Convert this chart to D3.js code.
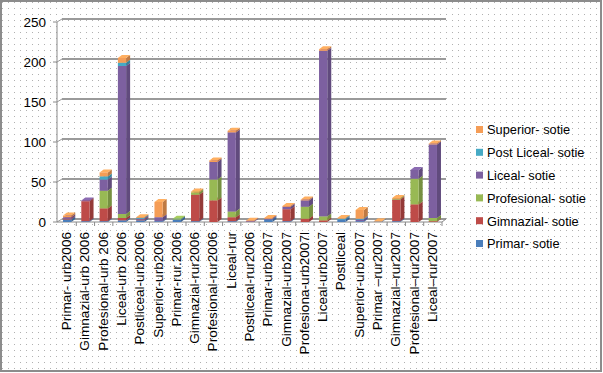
<!DOCTYPE html>
<html lang="ro">
<head>
<meta charset="UTF-8" />
<title>Sotie - nivel de studii</title>
<script src="https://d3js.org/d3.v7.min.js"></script>
<style>
  body { margin: 0; background: #fff; }
  svg { display: block; font-family: Arial, "Liberation Sans", sans-serif; }
</style>
</head>
<body>
<svg id="chart" width="603" height="373"></svg>
<script>
const categories = [
  "Primar- urb2006", "Gimnazial-urb 2006", "Profesional-urb 206", "Liceal-urb 2006",
  "Postliceal-urb2006", "Superior-urb2006", "Primar-rur.2006", "Gimnazial-rur2006",
  "Profesional-rur2006", "Liceal-rur", "Postliceal-rur2006", "Primar-urb2007",
  "Gimnazial-urb2007", "Profesiona-urb2007l", "Liceal-urb2007", "Postliceal",
  "Superior-urb2007", "Primar \u2013rur2007", "Gimnazial\u2013rur2007",
  "Profesional\u2013rur2007", "Liceal\u2013rur2007"
];
const seriesNames = ["Primar- sotie", "Gimnazial- sotie", "Profesional- sotie",
  "Liceal- sotie", "Post Liceal- sotie", "Superior- sotie"];
const primar      = [3, 1, 1, 2, 2, 1, 3, 1, 0, 1, 0, 3, 1, 0, 0, 3, 1, 0.5, 1, 0, 0];
const gimnazial   = [1, 25, 16, 3, 1, 0, 0, 33, 27, 5, 0, 0, 15, 4, 2, 0, 0, 0, 27, 22, 1];
const profesional = [0, 0, 22, 5, 0, 0, 1, 3, 26, 7, 0, 0, 0, 15, 5, 0, 0, 0, 1, 32, 4];
const liceal      = [2, 1, 14, 185, 1, 5, 0, 0, 22, 99, 1, 1, 3, 8, 207, 0, 2, 0, 0, 11, 92];
const postliceal  = [0, 0, 4, 4, 1, 0, 0, 0, 0, 0, 0, 0, 0, 0, 0, 1, 1, 0, 0, 0, 0];
const superior    = [2, 0, 5, 6, 1, 19, 0, 1, 2, 2, 0.5, 1, 1, 1, 2, 1, 11, 0.5, 1, 0, 1];
const yTicks = [0, 50, 100, 150, 200, 250];

const colors = ["#4a7ebb", "#be4b48", "#98b954", "#7d60a0", "#46aac5", "#f59d56"];
const values = [primar, gimnazial, profesional, liceal, postliceal, superior];

const svg = d3.select("#chart");
const dx = 4, dy = -3;   // 3D depth offset

// dotted background texture
const defs = svg.append("defs");
const pat = defs.append("pattern").attr("id", "dots")
  .attr("width", 6).attr("height", 6).attr("patternUnits", "userSpaceOnUse");
pat.append("rect").attr("width", 6).attr("height", 6).attr("fill", "#fff");
pat.append("rect").attr("x", 2).attr("y", 2).attr("width", 1).attr("height", 1).attr("fill", "#b0b0b0");

svg.append("rect").attr("x", 1).attr("y", 1).attr("width", 600).attr("height", 370)
  .attr("fill", "url(#dots)").attr("stroke", "#8c8c8c").attr("stroke-width", 2);

const x = d3.scaleBand().domain(categories).range([58, 442])
  .paddingInner(0.55).paddingOuter(0.275);
const y = d3.scaleLinear().domain([0, 250]).range([222, 22]);

// back wall gridlines with side-wall diagonals
const grid = svg.append("g");
yTicks.forEach(t => {
  grid.append("line")
    .attr("x1", 58 + dx).attr("x2", 442 + dx)
    .attr("y1", y(t) + dy).attr("y2", y(t) + dy)
    .attr("stroke", "#9a9a9a").attr("stroke-width", 2);
  grid.append("line")
    .attr("x1", 57).attr("y1", y(t)).attr("x2", 58 + dx).attr("y2", y(t) + dy)
    .attr("stroke", "#9a9a9a").attr("stroke-width", 1);
});

// axis line and floor front edge
svg.append("line").attr("x1", 57).attr("x2", 57).attr("y1", y(250)).attr("y2", y(0))
  .attr("stroke", "#8a8a8a");
svg.append("line").attr("x1", 57).attr("x2", 442).attr("y1", y(0)).attr("y2", y(0))
  .attr("stroke", "#8a8a8a");
svg.append("line").attr("x1", 442).attr("x2", 442 + dx).attr("y1", y(0)).attr("y2", y(0) + dy)
  .attr("stroke", "#8a8a8a");
categories.forEach((c, i) => {
  const tx = 58 + (384 / 21) * (i + 1);
  svg.append("line").attr("x1", tx).attr("x2", tx).attr("y1", y(0)).attr("y2", y(0) + 4)
    .attr("stroke", "#8a8a8a");
});
yTicks.forEach(t => {
  svg.append("line").attr("x1", 53).attr("x2", 57).attr("y1", y(t)).attr("y2", y(t))
    .attr("stroke", "#8a8a8a");
});

// y tick labels
svg.append("g").selectAll("text").data(yTicks).join("text")
  .attr("x", 46).attr("y", d => y(d)).attr("dy", "0.35em")
  .attr("text-anchor", "end").attr("font-size", 13.5).attr("fill", "#000")
  .text(d => d);

// stacked 3D bars
const rows = categories.map((c, i) => {
  const r = { cat: c };
  seriesNames.forEach((s, k) => r[s] = values[k][i]);
  return r;
});
const stack = d3.stack().keys(seriesNames)(rows);
const bw = x.bandwidth();
const barG = svg.append("g");
stack.forEach((layer, k) => {
  const col = d3.color(colors[k]);
  layer.forEach((seg, i) => {
    if (seg[1] - seg[0] <= 0) return;
    const x0 = x(categories[i]);
    const yTop = y(seg[1]), yBot = y(seg[0]);
    const g = barG.append("g");
    // side face
    g.append("path")
      .attr("d", `M${x0 + bw},${yBot} L${x0 + bw + dx},${yBot + dy} L${x0 + bw + dx},${yTop + dy} L${x0 + bw},${yTop} Z`)
      .attr("fill", col.darker(0.7));
    // top face
    g.append("path")
      .attr("d", `M${x0},${yTop} L${x0 + dx},${yTop + dy} L${x0 + bw + dx},${yTop + dy} L${x0 + bw},${yTop} Z`)
      .attr("fill", col.brighter(0.3));
    // front face
    g.append("rect").attr("x", x0).attr("y", yTop).attr("width", bw)
      .attr("height", yBot - yTop).attr("fill", col);
  });
});

// x labels, rotated
svg.append("g").selectAll("text").data(categories).join("text")
  .attr("transform", d => `translate(${x(d) + bw / 2 + 4},232) rotate(-90)`)
  .attr("text-anchor", "end").attr("font-size", 13.6).attr("fill", "#000")
  .text(d => d);

// legend (reverse order)
const legend = svg.append("g");
seriesNames.slice().reverse().forEach((s, i) => {
  const ly = 130 + i * 22.8;
  legend.append("rect").attr("x", 476).attr("y", ly - 4).attr("width", 7).attr("height", 7)
    .attr("fill", colors[seriesNames.indexOf(s)]);
  legend.append("text").attr("x", 487).attr("y", ly).attr("dy", "0.35em")
    .attr("font-size", 12.8).attr("fill", "#000").text(s);
});
</script>
</body>
</html>
